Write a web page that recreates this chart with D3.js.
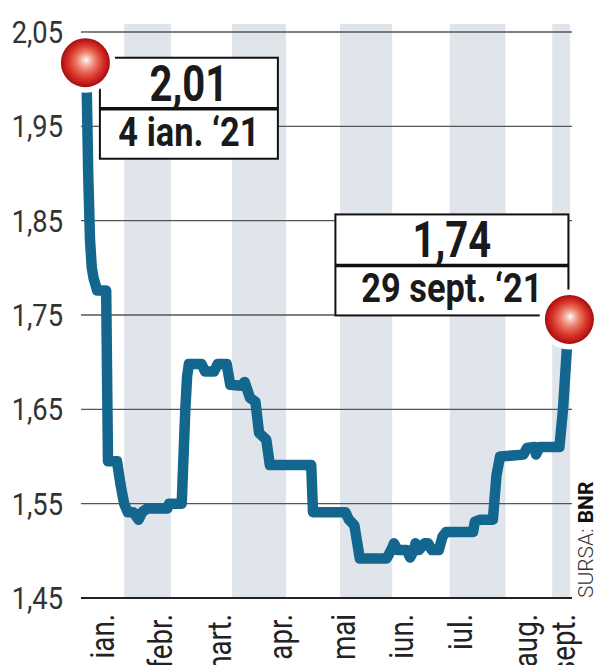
<!DOCTYPE html>
<html>
<head>
<meta charset="utf-8">
<script src="https://cdn.jsdelivr.net/npm/d3@7"></script>
<style>
  body { margin: 0; background: #fff; }
  svg { display: block; font-family: Roboto, "Liberation Sans", sans-serif; }
</style>
</head>
<body>
<div id="chart"></div>
<script>
// series
const dates = [
  "2021-01-04","2021-01-05","2021-01-06","2021-01-07","2021-01-08","2021-01-10","2021-01-14","2021-01-15",
  "2021-01-16","2021-01-21","2021-01-23","2021-01-25","2021-01-27","2021-01-30","2021-02-02","2021-02-04",
  "2021-02-07","2021-02-18","2021-02-19","2021-02-26","2021-02-27","2021-02-28","2021-03-01","2021-03-02",
  "2021-03-09","2021-03-11","2021-03-16","2021-03-18","2021-03-23","2021-03-25","2021-03-31","2021-04-02",
  "2021-04-05","2021-04-08","2021-04-10","2021-04-14","2021-04-16","2021-05-09","2021-05-10","2021-05-28",
  "2021-05-30","2021-06-02","2021-06-05","2021-06-20","2021-06-23","2021-06-24","2021-06-26","2021-07-01",
  "2021-07-03","2021-07-05","2021-07-06","2021-07-08","2021-07-11","2021-07-13","2021-07-15","2021-07-19",
  "2021-07-21","2021-07-23","2021-08-07","2021-08-08","2021-08-11","2021-08-18","2021-08-20","2021-08-22",
  "2021-09-04","2021-09-06","2021-09-10","2021-09-11","2021-09-13","2021-09-24","2021-09-25","2021-09-26",
  "2021-09-28","2021-09-29"
];
const rates = [
  2.01, 1.90, 1.83, 1.80, 1.789, 1.776, 1.776, 1.776,
  1.595, 1.595, 1.57, 1.55, 1.541, 1.541, 1.533, 1.541,
  1.545, 1.545, 1.55, 1.55, 1.60, 1.65, 1.685, 1.698,
  1.698, 1.69, 1.69, 1.698, 1.698, 1.676, 1.675, 1.679,
  1.662, 1.658, 1.625, 1.618, 1.591, 1.591, 1.541, 1.541,
  1.533, 1.527, 1.492, 1.492, 1.503, 1.508, 1.501, 1.501,
  1.493, 1.500, 1.508, 1.501, 1.508, 1.508, 1.501, 1.501,
  1.515, 1.52, 1.52, 1.531, 1.533, 1.533, 1.58, 1.60,
  1.602, 1.609, 1.61, 1.602, 1.61, 1.61, 1.63, 1.65,
  1.71, 1.74
];

const yTicks = [1.45, 1.55, 1.65, 1.75, 1.85, 1.95, 2.05];
const monthNames = ["ian.", "febr.", "mart.", "apr.", "mai", "iun.", "iul.", "aug.", "sept."];
const monthPos = ["2021-01-13","2021-02-14","2021-03-19","2021-04-22","2021-05-27","2021-06-28","2021-07-31","2021-09-05","2021-09-26"];
const bandStart = ["2021-01-25","2021-03-26","2021-05-25","2021-07-25","2021-09-20"];
const bandEnd   = ["2021-02-20","2021-04-25","2021-06-23","2021-08-25","2021-09-30"];

const firstLabel = ["2,01", "4 ian. \u201821"];
const lastLabel  = ["1,74", "29 sept. \u201821"];
const source = ["SURSA: ", "BNR"];

const parse = d3.timeParse("%Y-%m-%d");
const fmt = d3.format(".2f");
const comma = v => fmt(v).replace(".", ",");

const W = 599, H = 665;
const svg = d3.select("#chart").append("svg")
  .attr("width", W)
  .attr("height", H);

const x = d3.scaleTime()
  .domain([parse("2021-01-01"), parse("2021-10-01")])
  .range([81, 572]);
const y = d3.scaleLinear()
  .domain([1.45, 2.05])
  .range([598, 32]);

// no condensed face installed, so squeeze text along its run
const squeeze = (tx, ty, k, rot) =>
  `translate(${tx},${ty})` + (rot ? ` rotate(${rot})` : "") + ` scale(${k},1)`;

// gradient for the red pins
const grad = svg.append("defs").append("radialGradient")
  .attr("id", "pin")
  .attr("cx", "50%").attr("cy", "50%").attr("r", "50%")
  .attr("fx", "52%").attr("fy", "44%");
[[0, "#ffffff"], [0.12, "#f7cdc2"], [0.38, "#ec7c68"], [0.68, "#d8372b"], [0.88, "#c21a1b"], [1, "#9e0e10"]]
  .forEach(([o, c]) => grad.append("stop").attr("offset", o).attr("stop-color", c));

// month bands
svg.append("g").selectAll("rect")
  .data(bandStart.map((s, i) => [parse(s), parse(bandEnd[i])]))
  .join("rect")
    .attr("x", d => x(d[0]))
    .attr("width", d => x(d[1]) - x(d[0]))
    .attr("y", y(2.05) - 8)
    .attr("height", y(1.45) - y(2.05) + 8)
    .attr("fill", "#e0e5ec");

// grid lines
svg.append("g").selectAll("line")
  .data(yTicks)
  .join("line")
    .attr("x1", 81).attr("x2", 572)
    .attr("y1", d => y(d)).attr("y2", d => y(d))
    .attr("stroke", d => d === 1.45 ? "#222" : "#555")
    .attr("stroke-width", d => d === 1.45 ? 2.2 : 1.4);

// y labels
svg.append("g").selectAll("text")
  .data(yTicks)
  .join("text")
    .attr("transform", d => squeeze(63, y(d), 0.88))
    .attr("dy", "0.36em")
    .attr("text-anchor", "end")
    .attr("font-size", 31)
    .attr("fill", "#333")
    .text(comma);

// month labels
svg.append("g").selectAll("text")
  .data(monthNames)
  .join("text")
    .attr("transform", (d, i) => squeeze(x(parse(monthPos[i])), 614, 0.84, -90))
    .attr("dy", "0.35em")
    .attr("text-anchor", "end")
    .attr("font-size", 33)
    .attr("fill", "#222")
    .text(d => d);

// the series
const pts = dates.map((d, i) => [parse(d), rates[i]]);
const line = d3.line()
  .x(d => x(d[0]))
  .y(d => y(d[1]));

svg.append("path")
  .datum(pts)
  .attr("d", line)
  .attr("fill", "none")
  .attr("stroke", "#13668e")
  .attr("stroke-width", 10.5)
  .attr("stroke-linejoin", "round");

// annotation boxes
function callout(px, py, w, left, txt) {
  const h = 101;
  const bx = left ? px + 14.5 : px - 1 - w;
  const by = left ? py - 5 : py - 4 - h;
  const g = svg.append("g");
  g.append("rect")
    .attr("x", bx).attr("y", by)
    .attr("width", w).attr("height", h)
    .attr("fill", "#fff")
    .attr("stroke", "#111")
    .attr("stroke-width", 2);
  g.append("line")
    .attr("x1", bx).attr("x2", bx + w)
    .attr("y1", by + 51).attr("y2", by + 51)
    .attr("stroke", "#111")
    .attr("stroke-width", 3.5);
  g.append("text")
    .attr("transform", squeeze(bx + w / 2, by + 43, 0.8))
    .attr("text-anchor", "middle")
    .attr("font-size", 50)
    .attr("font-weight", "bold")
    .attr("fill", "#1a1a1a")
    .text(txt[0]);
  g.append("text")
    .attr("transform", squeeze(bx + w / 2, by + 88, 0.86))
    .attr("text-anchor", "middle")
    .attr("font-size", 40)
    .attr("font-weight", "bold")
    .attr("fill", "#1a1a1a")
    .text(txt[1]);
}

function pin(px, py) {
  svg.append("circle")
    .attr("cx", px).attr("cy", py).attr("r", 30)
    .attr("fill", "#fff");
  svg.append("circle")
    .attr("cx", px).attr("cy", py).attr("r", 24.5)
    .attr("fill", "url(#pin)");
}

const first = pts[0], last = pts[pts.length - 1];
const fx = x(first[0]) - 1, fy = y(first[1]) - 7;
const lx = x(last[0]) + 1, ly = y(last[1]) - 5;

callout(fx, fy, 178, true, firstLabel);
callout(lx, ly, 233, false, lastLabel);
pin(fx, fy);
pin(lx, ly);

// source
const src = svg.append("text")
  .attr("transform", "translate(593,598) rotate(-90)")
  .attr("font-size", 21)
  .attr("fill", "#333");
src.append("tspan").attr("font-weight", 300).text(source[0]);
src.append("tspan").attr("font-weight", "bold").attr("fill", "#111").text(source[1]);
</script>
</body>
</html>
